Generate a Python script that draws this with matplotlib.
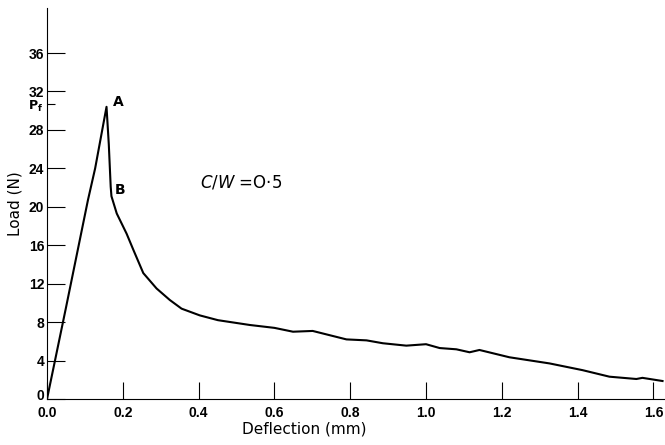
import matplotlib
matplotlib.use("Agg")
import matplotlib.pyplot as plt
import matplotlib.transforms as mtransforms

# load-deflection trace
deflection = [0.0, 0.050, 0.108, 0.127, 0.157, 0.163, 0.168, 0.170, 0.184,
              0.210, 0.228, 0.254, 0.289, 0.324, 0.355, 0.403, 0.451, 0.535,
              0.600, 0.649, 0.701, 0.790, 0.843, 0.886, 0.948, 1.000, 1.036,
              1.080, 1.115, 1.141, 1.220, 1.326, 1.413, 1.484, 1.555, 1.571,
              1.624]
load = [0.0, 9.5, 20.7, 24.0, 30.4, 26.5, 22.1, 21.1, 19.3,
        17.2, 15.5, 13.1, 11.5, 10.3, 9.4, 8.7, 8.2, 7.7,
        7.4, 7.0, 7.08, 6.2, 6.1, 5.8, 5.55, 5.7, 5.3,
        5.17, 4.86, 5.1, 4.34, 3.7, 3.0, 2.32, 2.08, 2.2,
        1.87]

xticks = [0.0, 0.2, 0.4, 0.6, 0.8, 1.0, 1.2, 1.4, 1.6]
yticks = [0, 4, 8, 12, 16, 20, 24, 28, 32, 36]
pf = 30.7

tick_font = dict(family=["Liberation Sans", "DejaVu Sans"],
                 weight="bold", size=10)

fig = plt.figure(figsize=(6.65, 4.45), dpi=100)
ax = fig.add_axes([0.0707, 0.1034, 0.929, 0.879])

ax.plot(deflection, load, color="black", linewidth=1.5)

ax.set_xlim(0, 1.63)
ax.set_ylim(0, 40.7)

ax.spines["top"].set_visible(False)
ax.spines["right"].set_visible(False)
ax.spines["left"].set_linewidth(0.8)
ax.spines["bottom"].set_linewidth(0.8)

ax.set_xticks(xticks)
ax.set_xticklabels([f"{t:.1f}" for t in xticks], fontdict=tick_font)
ax.set_yticks(yticks)
ax.set_yticklabels([str(t) for t in yticks], fontdict=tick_font)
ax.set_yticks([pf], minor=True)
ax.set_yticklabels([r"$\mathbf{P}_\mathbf{f}$"], minor=True, fontsize=9)
ax.tick_params(axis="y", which="major", direction="in", length=13, width=0.8, pad=2)
ax.tick_params(axis="y", which="minor", direction="in", length=6, width=0.8, pad=3)
ax.tick_params(axis="x", direction="in", length=12, width=0.8, pad=5)

# lift the "0" load label a little so it clears "0.0"
zero_lbl = ax.get_yticklabels()[0]
zero_lbl.set_transform(zero_lbl.get_transform() +
                       mtransforms.ScaledTranslation(0, 3 / 72, fig.dpi_scale_trans))

ax.set_xlabel("Deflection (mm)", fontsize=11)
ax.xaxis.set_label_coords(0.417, -0.058)
ax.set_ylabel("Load (N)", fontsize=11, labelpad=4)

ax.text(0.187, 30.9, "A", fontsize=10, weight="bold", ha="center", va="center")
ax.text(0.192, 21.7, "B", fontsize=10, weight="bold", ha="center", va="center")
ax.text(0.403, 22.5, r"$C/W$ =O·5", fontsize=12, ha="left", va="center")

fig.savefig("out.png", dpi=100)
